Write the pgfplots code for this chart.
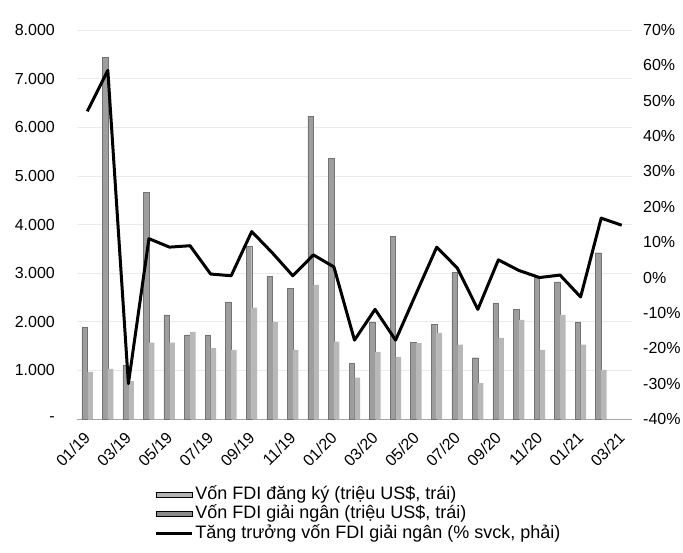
\documentclass[border=0pt]{standalone}
\usepackage{fontspec}
\setmainfont{Liberation Sans}
\usepackage{pgfplots}
\usepackage{pgfplotstable}
\pgfplotsset{compat=1.18}

% k: thang (0 = 01/19), reg = dang ky, dis = giai ngan (trieu US$)
\pgfplotstableread{
k reg dis
0 1880 970
1 7440 1030
2 1100 780
3 4660 1570
4 2140 1570
5 1730 1790
6 1730 1460
7 2410 1420
8 3550 2290
9 2930 2000
10 2680 1420
11 6230 2760
12 5360 1590
13 1150 850
14 2000 1380
15 3750 1280
16 1570 1560
17 1940 1770
18 3010 1530
19 1260 740
20 2390 1670
21 2250 2040
22 2930 1420
23 2820 2140
24 2000 1530
25 3420 1010
}\fdibars

% tang truong von giai ngan (% svck)
\pgfplotstableread{
k g
0 47
1 58.6
2 -30
3 11
4 8.6
5 9
6 1
7 0.5
8 13
9 7
10 0.5
11 6.4
12 3
13 -17.7
14 -9
15 -17.7
16 -4.5
17 8.6
18 2.7
19 -9
20 5
21 2
22 0
23 0.7
24 -5.5
25 16.8
26 14.8
}\fdigrowth

\newcommand{\lblfont}{\fontsize{16}{19}\selectfont}
\newcommand{\legfont}{\fontsize{18}{20}\selectfont}
\pgfplotsset{
  swatch/.style={legend image code/.code={\fill[##1] (0pt,-2.5pt) rectangle (36pt,2.5pt);}},
  linelegend/.style={legend image code/.code={\draw[##1] (0pt,0pt) -- (36pt,0pt);}},
}

\begin{document}
\begin{tikzpicture}
\useasboundingbox (-77pt,-133pt) rectangle (606pt,419pt);

\begin{axis}[
  at={(0pt,0pt)}, anchor=south west,
  scale only axis, width=555pt, height=389pt,
  xmin=-0.5, xmax=26.5, ymin=0, ymax=8000,
  axis x line*=bottom, axis y line*=left,
  x axis line style={draw=black!35, line width=0.8pt, -},
  y axis line style={draw=none},
  major tick length=0pt,
  xtick={0,2,...,26},
  xticklabels={01/19,03/19,05/19,07/19,09/19,11/19,01/20,03/20,05/20,07/20,09/20,11/20,01/21,03/21},
  xticklabel style={rotate=45, anchor=east, font=\lblfont, inner sep=0pt},
  xticklabel shift=16pt,
  ytick={0,1000,...,8000},
  yticklabels={-,1.000,2.000,3.000,4.000,5.000,6.000,7.000,8.000},
  yticklabel style={anchor=east, font=\lblfont, inner sep=0pt},
  yticklabel shift=22pt,
  ymajorgrids, grid style={draw=black!8, line width=0.6pt},
  ybar=0pt, bar width=5.5pt,
]
\addplot[fill=black!38, draw=black!55, line width=0.4pt] table[x=k, y=reg] {\fdibars};
\addplot[fill=black!28, draw=none] table[x=k, y=dis] {\fdibars};
\end{axis}

\begin{axis}[
  at={(0pt,0pt)}, anchor=south west,
  scale only axis, width=555pt, height=389pt,
  xmin=-0.5, xmax=26.5, ymin=-40, ymax=70,
  axis x line=none, axis y line*=right,
  y axis line style={draw=none},
  major tick length=0pt,
  ytick={-40,-30,...,70},
  yticklabels={-40\%,-30\%,-20\%,-10\%,0\%,10\%,20\%,30\%,40\%,50\%,60\%,70\%},
  yticklabel style={anchor=west, font=\lblfont, inner sep=0pt},
  yticklabel shift=11pt,
  legend cell align=left,
  legend style={draw=none, fill=none, at={(0.14,-0.172)}, anchor=north west,
    font=\legfont, row sep=2.5pt, inner sep=0pt,
    nodes={inner xsep=1.5pt, inner ysep=0pt, text height=13pt, text depth=4pt}},
]
\addlegendimage{swatch, fill=black!30}
\addlegendentry{Vốn FDI đăng ký (triệu US\$, trái)}
\addlegendimage{swatch, fill=black!45}
\addlegendentry{Vốn FDI giải ngân (triệu US\$, trái)}
\addplot[black, line width=3pt, line join=round, linelegend]
  table[x=k, y=g] {\fdigrowth};
\addlegendentry{Tăng trưởng vốn FDI giải ngân (\% svck, phải)}
\end{axis}
\end{tikzpicture}
\end{document}
